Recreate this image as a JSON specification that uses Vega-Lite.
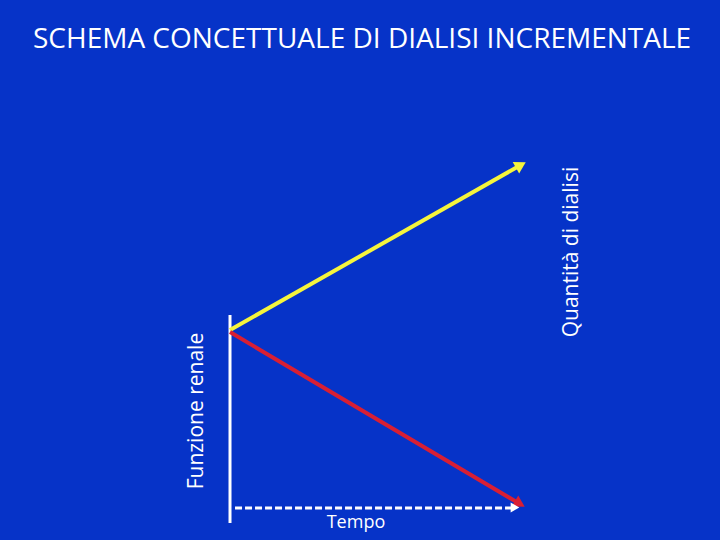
{
  "$schema": "https://vega.github.io/schema/vega-lite/v6.json",
  "width": 720,
  "height": 540,
  "autosize": {"type": "fit", "contains": "padding"},
  "padding": 0,
  "background": "#0633c8",
  "config": {"view": {"stroke": null}},
  "datasets": {
    "asse": [{"t": 0, "v": 5.565}, {"t": 0, "v": -0.464}],
    "curve": [
      {"serie": "dialisi", "t": 0, "v": 5.13},
      {"serie": "dialisi", "t": 9.858, "v": 9.913},
      {"serie": "funzione", "t": 0, "v": 5.07},
      {"serie": "funzione", "t": 9.824, "v": 0.09}
    ],
    "tempo": [{"t": 0.17, "v": -0.029}, {"t": 9.66, "v": -0.029}],
    "frecce": [
      {"serie": "dialisi", "t": 9.858, "v": 9.913},
      {"serie": "funzione", "t": 9.824, "v": 0.09},
      {"serie": "tempo", "t": 9.66, "v": -0.014}
    ],
    "testi": [
      {"testo": "SCHEMA CONCETTUALE DI DIALISI INCREMENTALE", "tipo": "titolo", "t": -6.678, "v": 13.304},
      {"testo": "Funzione renale", "tipo": "asse_y", "t": -0.915, "v": 2.78},
      {"testo": "Quantità di dialisi", "tipo": "asse_y2", "t": 11.8, "v": 7.39},
      {"testo": "Tempo", "tipo": "asse_x", "t": 4.27, "v": -0.609}
    ]
  },
  "encoding": {
    "x": {"field": "t", "type": "quantitative", "scale": {"domain": [-7.797, 16.61], "nice": false, "zero": false}, "axis": null},
    "y": {"field": "v", "type": "quantitative", "scale": {"domain": [-0.9565, 14.6957], "nice": false, "zero": false}, "axis": null}
  },
  "layer": [
    {
      "data": {"name": "asse"},
      "mark": {"type": "line", "color": "white", "strokeWidth": 3}
    },
    {
      "data": {"name": "tempo"},
      "mark": {"type": "line", "color": "white", "strokeWidth": 3, "strokeDash": [7, 3]}
    },
    {
      "data": {"name": "curve"},
      "mark": {"type": "line", "strokeWidth": 4},
      "encoding": {
        "color": {"field": "serie", "type": "nominal", "scale": {"domain": ["dialisi", "funzione"], "range": ["#f5f53c", "#d81f34"]}, "legend": null}
      }
    },
    {
      "data": {"name": "frecce"},
      "transform": [{"filter": "datum.serie == 'dialisi'"}],
      "mark": {"type": "point", "shape": "triangle-right", "filled": true, "opacity": 1, "size": 170, "angle": -29.6, "color": "#f5f53c"}
    },
    {
      "data": {"name": "frecce"},
      "transform": [{"filter": "datum.serie == 'funzione'"}],
      "mark": {"type": "point", "shape": "triangle-right", "filled": true, "opacity": 1, "size": 170, "angle": 30.7, "color": "#d81f34"}
    },
    {
      "data": {"name": "frecce"},
      "transform": [{"filter": "datum.serie == 'tempo'"}],
      "mark": {"type": "point", "shape": "triangle-right", "filled": true, "opacity": 1, "size": 100, "color": "white"}
    },
    {
      "data": {"name": "testi"},
      "transform": [{"filter": "datum.tipo == 'titolo'"}],
      "mark": {"type": "text", "font": "Open Sans", "fontSize": 28, "color": "white", "align": "left", "baseline": "alphabetic"},
      "encoding": {"text": {"field": "testo"}}
    },
    {
      "data": {"name": "testi"},
      "transform": [{"filter": "datum.tipo == 'asse_y' || datum.tipo == 'asse_y2'"}],
      "mark": {"type": "text", "font": "Open Sans", "fontSize": 21, "color": "white", "align": "center", "baseline": "alphabetic", "angle": 270},
      "encoding": {"text": {"field": "testo"}}
    },
    {
      "data": {"name": "testi"},
      "transform": [{"filter": "datum.tipo == 'asse_x'"}],
      "mark": {"type": "text", "font": "Open Sans", "fontSize": 18, "color": "white", "align": "center", "baseline": "alphabetic"},
      "encoding": {"text": {"field": "testo"}}
    }
  ]
}
